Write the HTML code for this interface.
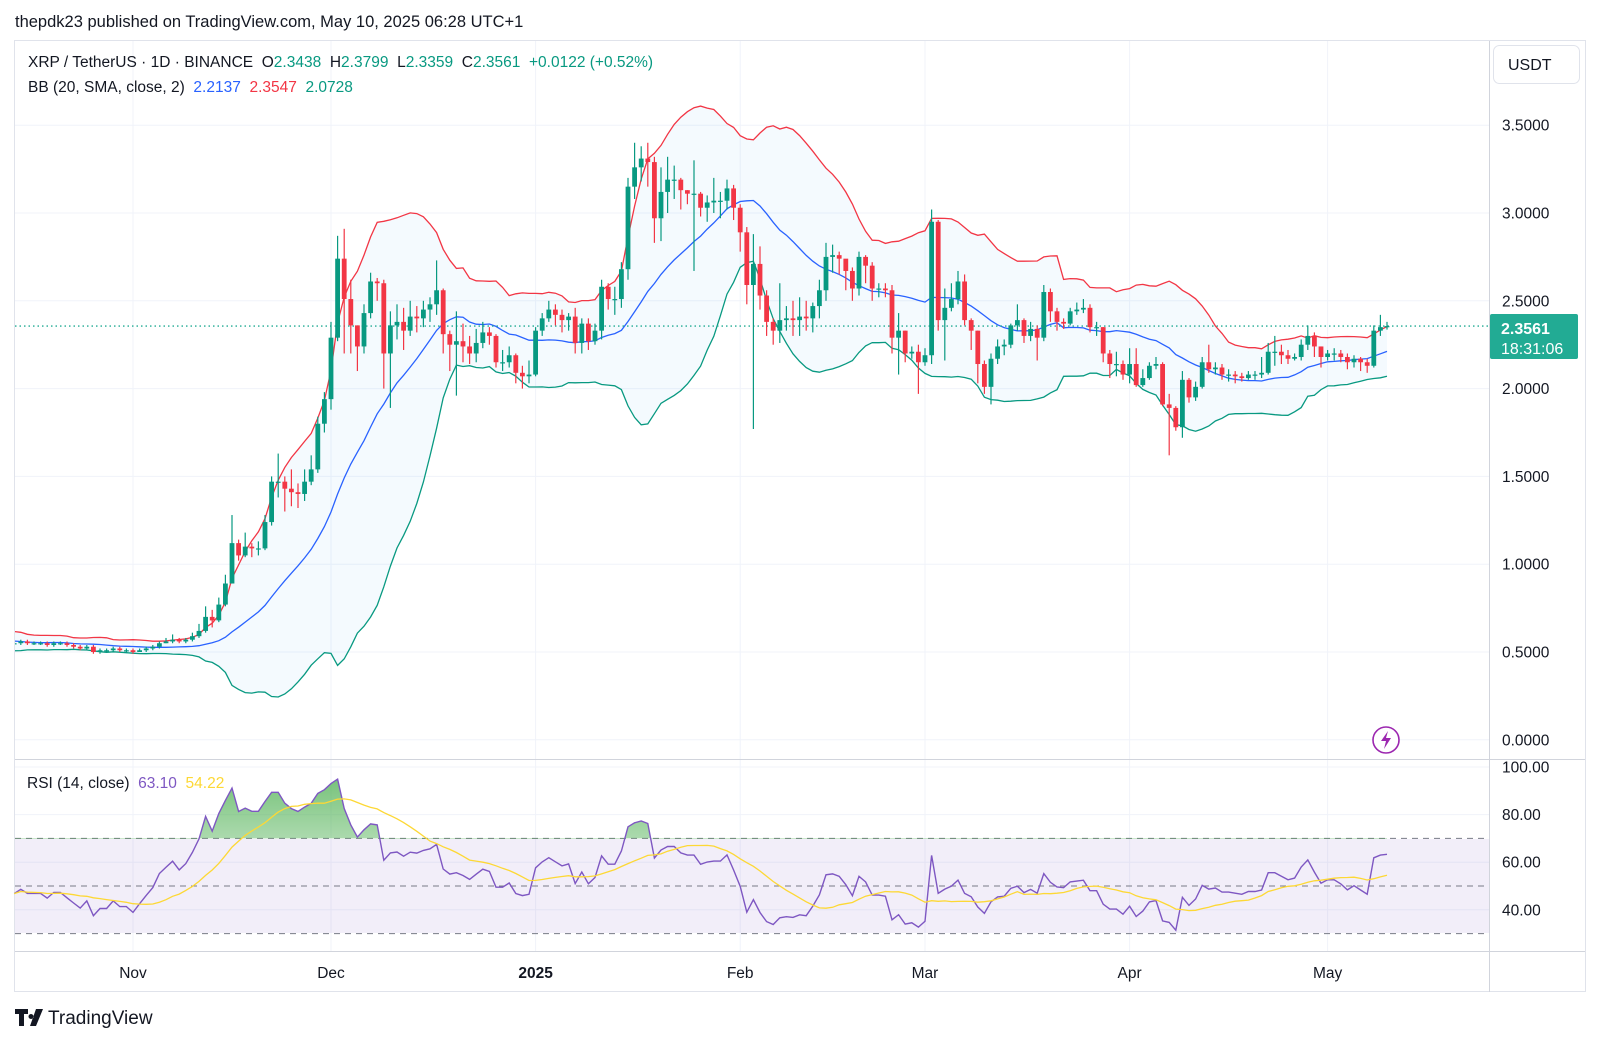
<!DOCTYPE html>
<html><head><meta charset="utf-8"><style>
html,body{margin:0;padding:0;background:#fff;}
svg{display:block;font-family:"Liberation Sans","DejaVu Sans",sans-serif;}
</style></head><body>
<svg id="chart" width="1600" height="1043" viewBox="0 0 1600 1043" xmlns="http://www.w3.org/2000/svg">
<defs>
<linearGradient id="obg" x1="0" y1="0" x2="0" y2="1"><stop offset="0" stop-color="#4caf50" stop-opacity="0.75"/><stop offset="1" stop-color="#4caf50" stop-opacity="0.03"/></linearGradient>
<clipPath id="mainClip"><rect x="15" y="41" width="1474" height="718"/></clipPath>
<clipPath id="obClip"><rect x="15" y="759" width="1474" height="80"/></clipPath>
</defs>
<rect x="0" y="0" width="1600" height="1043" fill="#fff"/>
<text x="15" y="27" font-size="16.5" fill="#131722">thepdk23 published on TradingView.com, May 10, 2025 06:28 UTC+1</text>
<rect x="14.5" y="40.5" width="1571" height="951" fill="none" stroke="#e0e3eb"/>
<g id="grid"></g>
<rect x="15" y="839" width="1474" height="94" fill="#7e57c2" fill-opacity="0.1"/>
<g id="main" clip-path="url(#mainClip)"></g>
<g id="rsi"></g>
<line x1="15" y1="759.5" x2="1585" y2="759.5" stroke="#d1d4dc"/>
<line x1="15" y1="951.5" x2="1585" y2="951.5" stroke="#d1d4dc"/>
<line x1="1489.5" y1="41" x2="1489.5" y2="992" stroke="#d1d4dc"/>
<g id="axes"></g>
<rect x="1493.5" y="45.5" width="86" height="38" rx="6" fill="#fff" stroke="#e0e3eb"/>
<text x="1508" y="70" font-size="16" fill="#131722">USDT</text>
<g>
<text x="28" y="67" font-size="15.5" fill="#131722" xml:space="preserve">XRP / TetherUS · 1D · BINANCE  <tspan>O</tspan><tspan fill="#089981">2.3438</tspan>  <tspan>H</tspan><tspan fill="#089981">2.3799</tspan>  <tspan>L</tspan><tspan fill="#089981">2.3359</tspan>  <tspan>C</tspan><tspan fill="#089981">2.3561</tspan>  <tspan fill="#089981">+0.0122 (+0.52%)</tspan></text>
</g>
<g>
<text x="28" y="92" font-size="15.5" fill="#131722" xml:space="preserve">BB (20, SMA, close, 2)  <tspan fill="#2962ff">2.2137</tspan>  <tspan fill="#f23645">2.3547</tspan>  <tspan fill="#089981">2.0728</tspan></text>
</g>
<g>
<text x="27" y="788" font-size="15.5" fill="#131722" xml:space="preserve">RSI (14, close)  <tspan fill="#7e57c2">63.10</tspan>  <tspan fill="#fdd835">54.22</tspan></text>
</g>
<g>
<circle cx="1386" cy="740" r="13" fill="#fff" stroke="#9c27b0" stroke-width="1.6"/>
<path d="M1388 731 L1381 741 L1386 741 L1384 749 L1391 738 L1386 738 Z" fill="#9c27b0"/>
</g>
<g>
<rect x="1490" y="314" width="88" height="45" rx="2" fill="#22ab94"/>
<text x="1501" y="334" font-size="16" font-weight="bold" fill="#fff">2.3561</text>
<text x="1501" y="354" font-size="16" fill="#fff">18:31:06</text>
</g>
<g>
<path d="M15 1009 h13 v5 h-4 v12 h-5 v-12 h-4 z M31 1014 a2.5 2.5 0 1 0 0.01 0 z M36 1009 h7 l-7 17 h-6 z" fill="#131722"/>
<text x="48" y="1024" font-size="19" fill="#131722">TradingView</text>
</g>
</svg>
<script>
const prehist=[0.58,0.60,0.62,0.59,0.57,0.55,0.53,0.55,0.58,0.60,0.57,0.54,0.52,0.55,0.57,0.59,0.56,0.53,0.52,0.55];
const closes=[
0.55,0.56,0.55,0.55,0.55,0.54,0.55,0.55,0.54,0.53,
0.52,0.53,0.50,0.51,0.51,0.52,0.51,0.51,0.50,0.51,
0.52,0.53,0.55,0.56,0.57,0.56,0.57,0.59,0.62,0.70,
0.68,0.77,0.89,1.12,1.05,1.10,1.09,1.09,1.24,1.47,
1.47,1.43,1.41,1.40,1.47,1.54,1.80,1.94,2.29,2.74,
2.51,2.36,2.24,2.43,2.61,2.60,2.20,2.36,2.38,2.33,
2.41,2.40,2.45,2.48,2.56,2.31,2.25,2.27,2.24,2.20,
2.26,2.32,2.30,2.15,2.15,2.19,2.09,2.07,2.08,2.33,
2.40,2.45,2.42,2.39,2.41,2.26,2.37,2.27,2.33,2.58,
2.51,2.51,2.68,3.15,3.26,3.31,3.29,2.97,3.12,3.19,
3.19,3.13,3.11,3.11,3.03,3.06,3.07,3.07,3.14,3.03,
2.89,2.59,2.71,2.53,2.38,2.33,2.39,2.40,2.39,2.41,
2.40,2.47,2.56,2.75,2.76,2.74,2.67,2.57,2.75,2.70,
2.57,2.57,2.56,2.29,2.33,2.20,2.21,2.15,2.19,2.95,
2.39,2.46,2.51,2.61,2.39,2.33,2.14,2.01,2.17,2.24,
2.25,2.36,2.39,2.30,2.34,2.29,2.55,2.44,2.38,2.37,
2.44,2.45,2.46,2.35,2.35,2.20,2.14,2.14,2.08,2.14,
2.02,2.06,2.13,2.14,1.91,1.89,1.78,2.05,1.95,2.01,
2.15,2.11,2.12,2.08,2.08,2.07,2.06,2.08,2.08,2.09,
2.21,2.21,2.19,2.17,2.18,2.25,2.30,2.24,2.18,2.20,
2.20,2.18,2.15,2.17,2.15,2.13,2.33,2.35,2.356];
const highs=[
0.57,0.57,0.57,0.56,0.56,0.56,0.56,0.56,0.56,0.55,
0.54,0.54,0.54,0.52,0.52,0.53,0.53,0.52,0.52,0.52,
0.53,0.54,0.56,0.58,0.60,0.58,0.58,0.61,0.66,0.76,
0.74,0.81,0.94,1.28,1.14,1.18,1.12,1.13,1.28,1.50,
1.63,1.50,1.54,1.46,1.54,1.62,1.84,1.98,2.38,2.87,
2.91,2.62,2.35,2.48,2.66,2.63,2.62,2.44,2.48,2.46,
2.50,2.47,2.50,2.52,2.73,2.57,2.33,2.44,2.37,2.30,
2.34,2.38,2.35,2.31,2.22,2.24,2.20,2.13,2.16,2.35,
2.43,2.50,2.48,2.45,2.43,2.46,2.40,2.40,2.37,2.62,
2.60,2.58,2.72,3.20,3.40,3.38,3.40,3.32,3.26,3.32,
3.27,3.20,3.13,3.30,3.12,3.10,3.20,3.12,3.19,3.16,
3.05,2.92,2.88,2.81,2.56,2.40,2.60,2.47,2.50,2.52,
2.50,2.49,2.62,2.83,2.82,2.78,2.72,2.69,2.78,2.76,
2.72,2.60,2.60,2.59,2.43,2.33,2.24,2.25,2.23,3.02,
2.96,2.57,2.60,2.67,2.65,2.40,2.33,2.16,2.20,2.28,
2.28,2.37,2.48,2.40,2.38,2.36,2.59,2.57,2.46,2.40,
2.46,2.49,2.51,2.48,2.38,2.35,2.22,2.21,2.16,2.23,
2.23,2.11,2.15,2.18,2.15,1.97,1.90,2.10,2.06,2.04,
2.18,2.25,2.15,2.14,2.11,2.10,2.09,2.10,2.10,2.18,
2.26,2.30,2.25,2.22,2.20,2.28,2.36,2.32,2.24,2.22,
2.23,2.22,2.20,2.19,2.18,2.17,2.36,2.42,2.38];
const lows=[
0.53,0.54,0.54,0.54,0.54,0.53,0.53,0.54,0.53,0.52,
0.51,0.51,0.49,0.49,0.50,0.50,0.50,0.50,0.49,0.50,
0.50,0.51,0.52,0.55,0.55,0.55,0.55,0.56,0.58,0.61,
0.64,0.67,0.76,0.89,1.02,1.04,1.04,1.05,1.08,1.22,
1.38,1.30,1.33,1.32,1.36,1.45,1.52,1.75,1.88,2.27,
2.20,2.20,2.10,2.20,2.40,2.50,2.00,1.89,2.28,2.22,
2.30,2.32,2.35,2.38,2.42,2.20,2.10,1.96,2.15,2.14,
2.15,2.23,2.25,2.12,2.10,2.12,2.03,2.00,2.03,2.07,
2.30,2.38,2.36,2.32,2.33,2.20,2.20,2.22,2.25,2.28,
2.45,2.42,2.46,2.62,3.08,3.18,3.15,2.83,2.84,3.00,
3.08,3.02,3.05,2.67,2.98,2.95,3.00,2.97,3.02,2.96,
2.78,2.48,1.77,2.45,2.30,2.25,2.26,2.33,2.30,2.30,
2.33,2.32,2.40,2.50,2.66,2.65,2.56,2.50,2.53,2.60,
2.50,2.52,2.52,2.20,2.08,2.15,2.17,1.97,2.13,2.14,
2.33,2.16,2.44,2.48,2.36,2.22,2.03,1.97,1.91,2.14,
2.19,2.23,2.33,2.26,2.27,2.16,2.27,2.38,2.33,2.34,
2.36,2.42,2.43,2.32,2.30,2.15,2.06,2.07,2.05,2.03,
2.01,2.01,2.05,2.11,1.90,1.62,1.76,1.72,1.92,1.93,
2.00,2.09,2.08,2.05,2.04,2.03,2.04,2.05,2.05,2.06,
2.08,2.13,2.14,2.14,2.16,2.16,2.22,2.18,2.12,2.16,
2.16,2.15,2.11,2.12,2.10,2.09,2.12,2.30,2.336];
const priceTicks=[0,0.5,1,1.5,2,2.5,3,3.5];
const priceTickLabels=["0.0000","0.5000","1.0000","1.5000","2.0000","2.5000","3.0000","3.5000"];
const rsiTicks=[40,60,80,100];
const rsiTickLabels=["40.00","60.00","80.00","100.00"];
const monthIdx=[18,48,79,110,138,169,199];
const monthLabels=["Nov","Dec","2025","Feb","Mar","Apr","May"];
const lastPrice=2.3561;

const NS="http://www.w3.org/2000/svg";
const xOf=i=>14.2+6.6*i;
const yP=p=>739.8-175.6*p;
const yR=v=>767+(100-v)*2.38;
function mk(tag,attrs,parent){const e=document.createElementNS(NS,tag);for(const k in attrs)e.setAttribute(k,attrs[k]);parent.appendChild(e);return e;}
const grid=document.getElementById('grid'),main=document.getElementById('main'),rsiG=document.getElementById('rsi'),axes=document.getElementById('axes');

priceTicks.forEach((p,k)=>{
  const l=mk('line',{x1:15,x2:1489,y1:yP(p),y2:yP(p),stroke:'#f0f3fa'},grid);
  
  
  const t=mk('text',{x:1502,y:yP(p)+5.5,'font-size':15.5,fill:'#131722'},axes);
  t.textContent=priceTickLabels[k];
  
  
});
rsiTicks.forEach((v,k)=>{
  const l=mk('line',{x1:15,x2:1489,y1:yR(v),y2:yR(v),stroke:'#f0f3fa'},grid);
  
  
  const t=mk('text',{x:1502,y:yR(v)+5.5,'font-size':15.5,fill:'#131722'},axes);
  t.textContent=rsiTickLabels[k];
  
  
});
monthIdx.forEach((i,k)=>{
  const l=mk('line',{x1:xOf(i),x2:xOf(i),y1:41,y2:951,stroke:'#f0f3fa'},grid);
  
  
  const t=mk('text',{x:xOf(i),y:978,'font-size':15.5,fill:'#131722','text-anchor':'middle','font-weight':monthLabels[k]==='2025'?'bold':'normal'},axes);
  t.textContent=monthLabels[k];
  
  
});
[70,50,30].forEach(v=>{
  const l=mk('line',{x1:15,x2:1489,y1:yR(v),y2:yR(v),stroke:'#787b86','stroke-dasharray':'6 5','stroke-width':1},rsiG);
  
  
});

const all=prehist.concat(closes);const off=prehist.length;
const up=[],mid=[],lo=[];
closes.forEach((c,i)=>{const j=i+off;const w=all.slice(j-19,j+1);const m=w.reduce((a,b)=>a+b,0)/20;const sd=Math.sqrt(w.reduce((a,b)=>a+(b-m)*(b-m),0)/20);mid.push(m);up.push(m+2*sd);lo.push(m-2*sd);});
const ptsStr=(arr,f)=>arr.map((v,i)=>xOf(i).toFixed(1)+','+f(v).toFixed(1)).join(' ');
const fillPts=up.map((v,i)=>xOf(i).toFixed(1)+','+yP(v).toFixed(1)).concat(lo.map((v,i)=>[i,v]).reverse().map(([i,v])=>xOf(i).toFixed(1)+','+yP(v).toFixed(1))).join(' ');
const bf=mk('polygon',{points:fillPts,fill:'#2196f3','fill-opacity':0.05},main);


const bu=mk('polyline',{points:ptsStr(up,yP),fill:'none',stroke:'#f23645','stroke-width':1.3},main);


const bm=mk('polyline',{points:ptsStr(mid,yP),fill:'none',stroke:'#2962ff','stroke-width':1.3},main);


const bl=mk('polyline',{points:ptsStr(lo,yP),fill:'none',stroke:'#089981','stroke-width':1.3},main);



const lp=mk('line',{x1:15,x2:1489,y1:yP(lastPrice),y2:yP(lastPrice),stroke:'#22ab94','stroke-dasharray':'1.5 3','stroke-width':1.3},main);



closes.forEach((c,i)=>{
  const o=i===0?prehist[prehist.length-1]:closes[i-1];
  const col=c>=o?'#089981':'#f23645';
  const x=xOf(i);
  const g=mk('g',{},main);
  
  
  mk('line',{x1:x,x2:x,y1:yP(highs[i]),y2:yP(lows[i]),stroke:col,'stroke-width':1.2},g);
  const top=yP(Math.max(o,c)),bot=yP(Math.min(o,c));
  mk('rect',{x:x-2.4,y:top,width:4.8,height:Math.max(1.2,bot-top),fill:col},g);
});

const rsi=[];let ag=0,al=0;
for(let j=1;j<all.length;j++){const d=all[j]-all[j-1];const gg=Math.max(d,0),ll=Math.max(-d,0);
  if(j<=14){ag+=gg/14;al+=ll/14;}else{ag=(ag*13+gg)/14;al=(al*13+ll)/14;}
  if(j>=off){rsi.push(al===0?100:100-100/(1+ag/al));}}
const rsiMA=rsi.map((v,i)=>{const s=rsi.slice(Math.max(0,i-13),i+1);return s.reduce((a,b)=>a+b,0)/s.length;});
const obPts=xOf(0).toFixed(1)+','+yR(70)+' '+ptsStr(rsi,yR)+' '+xOf(rsi.length-1).toFixed(1)+','+yR(70);
const ob=mk('polygon',{points:obPts,fill:'url(#obg)','clip-path':'url(#obClip)'},rsiG);


const rl=mk('polyline',{points:ptsStr(rsi,yR),fill:'none',stroke:'#7e57c2','stroke-width':1.4},rsiG);


const rm=mk('polyline',{points:ptsStr(rsiMA,yR),fill:'none',stroke:'#fdd835','stroke-width':1.3},rsiG);


</script>
</body></html>
